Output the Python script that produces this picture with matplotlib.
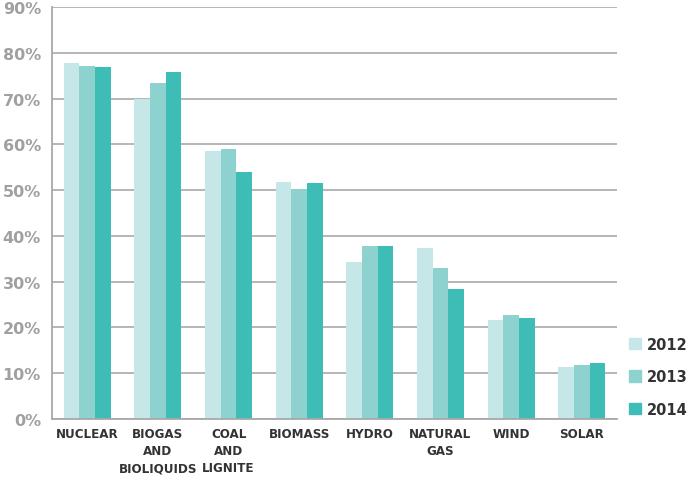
import numpy as np
import matplotlib
matplotlib.use('Agg')
import matplotlib.pyplot as plt
from matplotlib.patches import Patch

# 데이터
categories = ['NUCLEAR', 'BIOGAS\nAND\nBIOLIQUIDS', 'COAL\nAND\nLIGNITE', 'BIOMASS',
              'HYDRO', 'NATURAL\nGAS', 'WIND', 'SOLAR']
years = ['2012', '2013', '2014']
values_2012 = [77.8, 69.9, 58.5, 51.7, 34.2, 37.3, 21.7, 11.4]
values_2013 = [77.1, 73.5, 59.0, 50.2, 37.7, 32.9, 22.7, 11.9]
values_2014 = [76.8, 75.8, 53.9, 51.5, 37.7, 28.4, 22.1, 12.3]
y_ticks = [0, 10, 20, 30, 40, 50, 60, 70, 80, 90]

colors = ['#c6e7e7', '#8ed2cf', '#3dbdb5']

fig = plt.figure(figsize=(6.89, 4.81), dpi=100)
ax = fig.add_axes([0.0755, 0.1268, 0.82, 0.8566])

x = np.arange(len(categories))
w = 0.222
for i, vals in enumerate([values_2012, values_2013, values_2014]):
    ax.bar(x + (i - 1) * w, vals, width=w, color=colors[i], zorder=2, linewidth=0)

ax.set_xlim(-0.5, len(categories) - 0.5)
ax.set_ylim(0, 90)
ax.set_yticks(y_ticks)
ax.set_yticklabels([str(t) + '%' for t in y_ticks], color='#a0a0a0',
                   fontsize=11.5, fontweight='bold', family='DejaVu Sans')
ax.yaxis.grid(True, color='#b0b0b0', linewidth=1.3, zorder=1)
ax.set_axisbelow(True)
ax.tick_params(axis='both', length=0)
ax.tick_params(axis='y', pad=8)

ax.set_xticks(x)
ax.set_xticklabels(categories, fontsize=9.5, fontweight='bold', color='#333333',
                   family='DejaVu Sans', fontstretch='condensed', linespacing=1.4)
ax.tick_params(axis='x', pad=6)

for s in ['top', 'right']:
    ax.spines[s].set_visible(False)
ax.spines['left'].set_color('#a8a8a8')
ax.spines['bottom'].set_color('#a8a8a8')
ax.spines['left'].set_linewidth(1.3)
ax.spines['bottom'].set_linewidth(1.3)

handles = [Patch(color=c) for c in colors]
fig.legend(handles, years, loc='center left', bbox_to_anchor=(0.913, 0.215),
           frameon=False, handlelength=0.8, handleheight=0.8, handletextpad=0.45,
           labelspacing=1.2, prop={'size': 10.5, 'weight': 'bold'}, labelcolor='#333333',
           borderaxespad=0, borderpad=0)

fig.savefig('out.png', dpi=100)
